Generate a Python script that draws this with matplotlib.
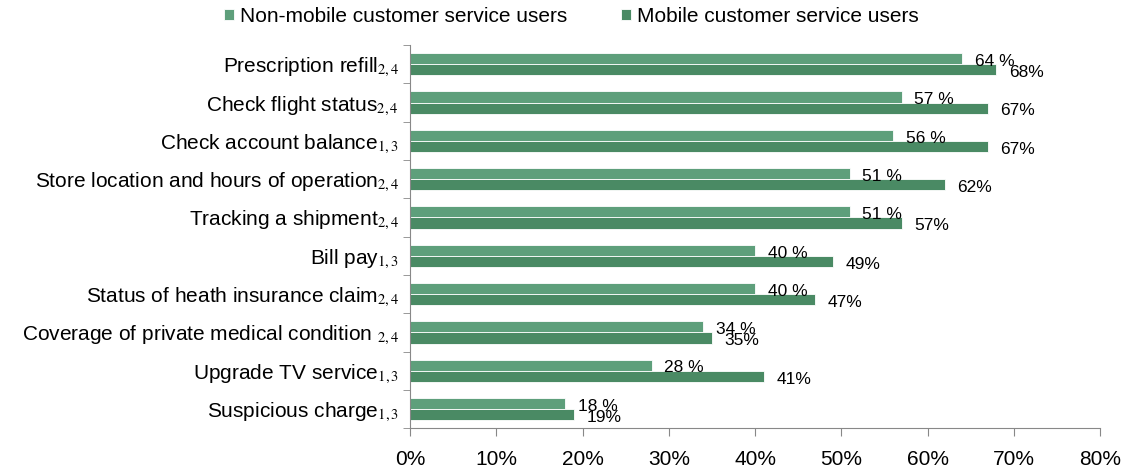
import numpy as np
import matplotlib.pyplot as plt
from matplotlib.ticker import FuncFormatter, FixedLocator

plt.rcParams['font.family'] = ['Liberation Sans', 'DejaVu Sans']
plt.rcParams['mathtext.fontset'] = 'stix'

# Задачи и доли пользователей
tasks = ["Prescription refill", "Check flight status", "Check account balance",
         "Store location and hours of operation", "Tracking a shipment", "Bill pay",
         "Status of heath insurance claim", "Coverage of private medical condition ",
         "Upgrade TV service", "Suspicious charge"]
notes = ["2,4", "2,4", "1,3", "2,4", "2,4", "1,3", "2,4", "2,4", "1,3", "1,3"]
non_mobile = [64, 57, 56, 51, 51, 40, 40, 34, 28, 18]
mobile = [68, 67, 67, 62, 57, 49, 47, 35, 41, 19]
series_names = ["Non-mobile customer service users", "Mobile customer service users"]

c_light = '#5e9f7b'
c_dark = '#4a8a64'

fig = plt.figure(figsize=(11.27, 4.70), dpi=100)
ax = fig.add_axes([0.364, 0.089, 0.612, 0.815])

y = np.arange(len(tasks))
h = 0.29
b1 = ax.barh(y - h / 2, non_mobile, height=h, color=c_light, edgecolor='white',
             linewidth=0.6, label=series_names[0])
b2 = ax.barh(y + h / 2, mobile, height=h, color=c_dark, edgecolor='white',
             linewidth=0.6, label=series_names[1])

# Подписи значений
for yi, v in zip(y, non_mobile):
    ax.annotate(f"{v} %", (v, yi - h / 2), xytext=(9, -2), textcoords='offset points',
                ha='left', va='center', fontsize=12.5)
for yi, v in zip(y, mobile):
    ax.annotate(f"{v}%", (v, yi + h / 2), xytext=(9, -2), textcoords='offset points',
                ha='left', va='center', fontsize=12.5)

ax.set_xlim(0, 80)
ax.set_ylim(len(tasks) - 0.5, -0.5)
ax.set_xticks(np.arange(0, 81, 10))
ax.xaxis.set_major_formatter(FuncFormatter(lambda v, p: f"{v:.0f}%"))
ax.set_yticks(y)
ax.set_yticklabels([f"{t}$_{{{n}}}$" for t, n in zip(tasks, notes)], fontsize=15)
ax.yaxis.set_minor_locator(FixedLocator(np.arange(-0.5, len(tasks), 1)))
ax.tick_params(axis='y', which='major', length=0, pad=8)
ax.tick_params(axis='y', which='minor', length=5, color='#888888')
ax.tick_params(axis='x', length=6, color='#888888', pad=10, labelsize=15)

for s in ['top', 'right']:
    ax.spines[s].set_visible(False)
for s in ['left', 'bottom']:
    ax.spines[s].set_color('#888888')

fig.legend(handles=[b1, b2], loc='upper center', bbox_to_anchor=(0.507, 1.025),
           ncol=2, frameon=False, fontsize=15, handlelength=0.45, handleheight=0.45,
           handletextpad=0.3, columnspacing=2.6)

fig.savefig('out.png', dpi=100)
